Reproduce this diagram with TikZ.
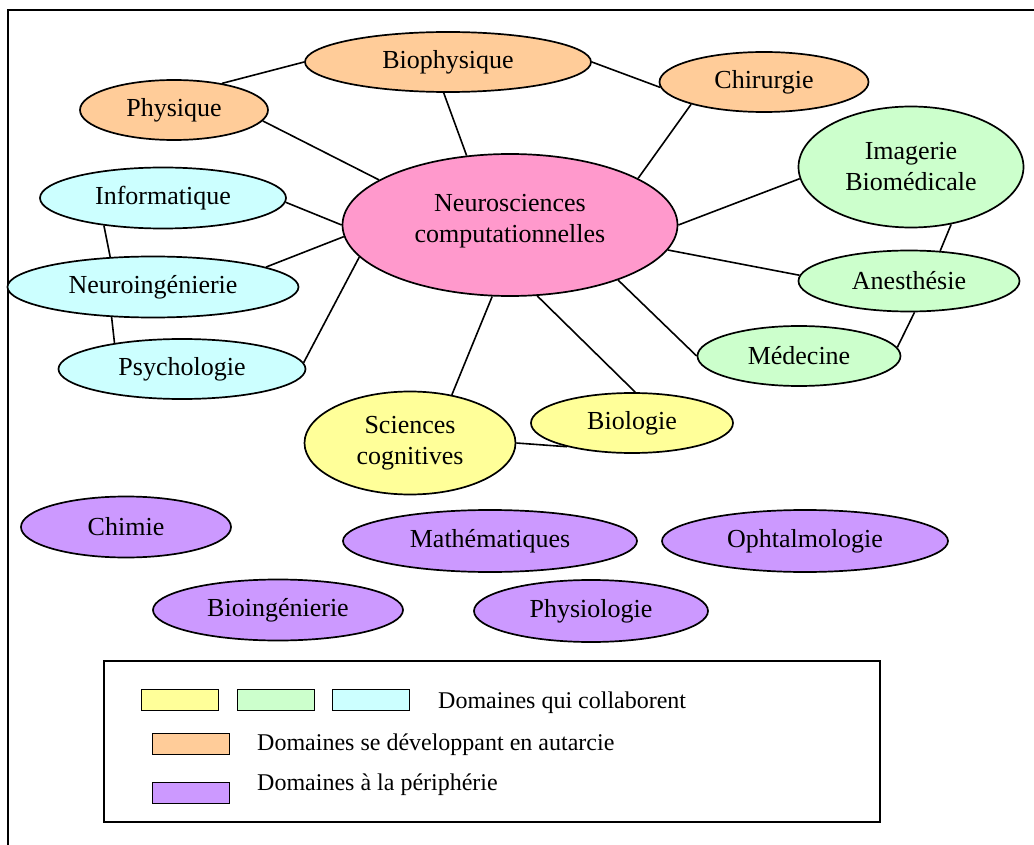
\documentclass[tikz,border=0pt]{standalone}
\usepackage{fontspec}
\setmainfont{Liberation Serif}
\usetikzlibrary{shapes.geometric}
\definecolor{arancio}{HTML}{FFCC99}
\definecolor{rosa}{HTML}{FF99CC}
\definecolor{verde}{HTML}{CCFFCC}
\definecolor{azzurro}{HTML}{CCFFFF}
\definecolor{giallo}{HTML}{FFFF99}
\definecolor{viola}{HTML}{CC99FF}
\begin{document}
\begin{tikzpicture}[x=1pt,y=-1pt,
    dominio/.style={ellipse, draw, line width=1.7pt, inner sep=0pt, align=center, font=\fontsize{26}{31}\selectfont},
    legame/.style={line width=1.6pt},
    campione/.style={draw, line width=1.7pt, minimum width=77pt, minimum height=21pt, inner sep=0pt},
    voce/.style={anchor=west, inner sep=0pt, font=\fontsize{24}{28}\selectfont}]
    \useasboundingbox (0,0) rectangle (1034,845);

        % Cornice
        \draw[line width=1.6pt] (8,845) -- (8,10) -- (1034,10);

        % Domaine central
        \node[dominio, fill=rosa, minimum width=335pt, minimum height=142pt] (neuro) at (510,225) {Neurosciences\\computationnelles\\[-17pt]};

        % Domaines en autarcie
        \node[dominio, fill=arancio, minimum width=286pt, minimum height=60pt] (biofisica) at (448,62) {Biophysique};
        \node[dominio, fill=arancio, minimum width=188pt, minimum height=60pt] (fisica) at (174,110) {Physique};
        \node[dominio, fill=arancio, minimum width=209pt, minimum height=60pt] (chirurgia) at (764,82) {Chirurgie};

        % Domaines qui collaborent
        \node[dominio, fill=verde, minimum width=225pt, minimum height=121pt] (imagerie) at (911,167) {Imagerie\\Biomédicale};
        \node[dominio, fill=verde, minimum width=221pt, minimum height=61pt] (anestesia) at (909,281) {Anesthésie};
        \node[dominio, fill=verde, minimum width=203pt, minimum height=60pt] (medicina) at (799,356) {Médecine};
        \node[dominio, fill=azzurro, minimum width=246pt, minimum height=61pt] (informatica) at (163,198) {Informatique};
        \node[dominio, fill=azzurro, minimum width=291pt, minimum height=61pt] (neuroing) at (153,287) {Neuroingénierie};
        \node[dominio, fill=azzurro, minimum width=247pt, minimum height=60pt] (psicologia) at (182,369) {Psychologie};
        \node[dominio, fill=giallo, minimum width=211pt, minimum height=103pt] (scienze) at (410,443) {Sciences\\cognitives};
        \node[dominio, fill=giallo, minimum width=202pt, minimum height=60pt] (biologia) at (632,423) {Biologie};

        % Domaines a la peripherie
        \node[dominio, fill=viola, minimum width=210pt, minimum height=61pt] (chimica) at (126,527) {Chimie};
        \node[dominio, fill=viola, minimum width=294pt, minimum height=62pt] (matematica) at (490,541) {Mathématiques};
        \node[dominio, fill=viola, minimum width=286pt, minimum height=62pt] (oftalmo) at (805,541) {Ophtalmologie};
        \node[dominio, fill=viola, minimum width=250pt, minimum height=61pt] (bioing) at (278,610) {Bioingénierie};
        \node[dominio, fill=viola, minimum width=234pt, minimum height=62pt] (fisiologia) at (591,611) {Physiologie};

        % Liens
        \draw[legame] (fisica.29) -- (biofisica.180);
        \draw[legame] (fisica.353) -- (neuro.161);
        \draw[legame] (biofisica.262) -- (neuro.122);
        \draw[legame] (biofisica.0) -- (chirurgia.183);
        \draw[legame] (chirurgia.197) -- (neuro.20);
        \draw[legame] (neuro.0) -- (imagerie.186);
        \draw[legame] (neuro.351) -- (anestesia.177);
        \draw[legame] (imagerie.305) -- (anestesia.44);
        \draw[legame] (anestesia.280) -- (medicina.5);
        \draw[legame] (neuro.333) -- (medicina.180);
        \draw[legame] (neuro.291) -- (biologia.84);
        \draw[legame] (neuro.256) -- (scienze.49);
        \draw[legame] (scienze.0) -- (biologia.200);
        \draw[legame] (informatica.358) -- (neuro.180);
        \draw[legame] (neuroing.10) -- (neuro.184);
        \draw[legame] (psicologia.3) -- (neuro.192);
        \draw[legame] (informatica.205) -- (neuroing.145);
        \draw[legame] (neuroing.216) -- (psicologia.159);

        % Legende
        \node[draw, line width=1.6pt, minimum width=776pt, minimum height=161pt, inner sep=0pt] (legenda) at (492,741.5) {};
        \node[campione, fill=giallo] (cgiallo) at (180,700) {};
        \node[campione, fill=verde] (cverde) at (276,700) {};
        \node[campione, fill=azzurro] (cazzurro) at (371,700) {};
        \node[voce] (tcollab) at (438,703) {Domaines qui collaborent};
        \node[campione, fill=arancio] (carancio) at (191,744) {};
        \node[voce] (tautarcie) at (257,745) {Domaines se développant en autarcie};
        \node[campione, fill=viola] (cviola) at (191,793) {};
        \node[voce] (tperiferia) at (257,785) {Domaines à la périphérie};
    \end{tikzpicture}
\end{document}
